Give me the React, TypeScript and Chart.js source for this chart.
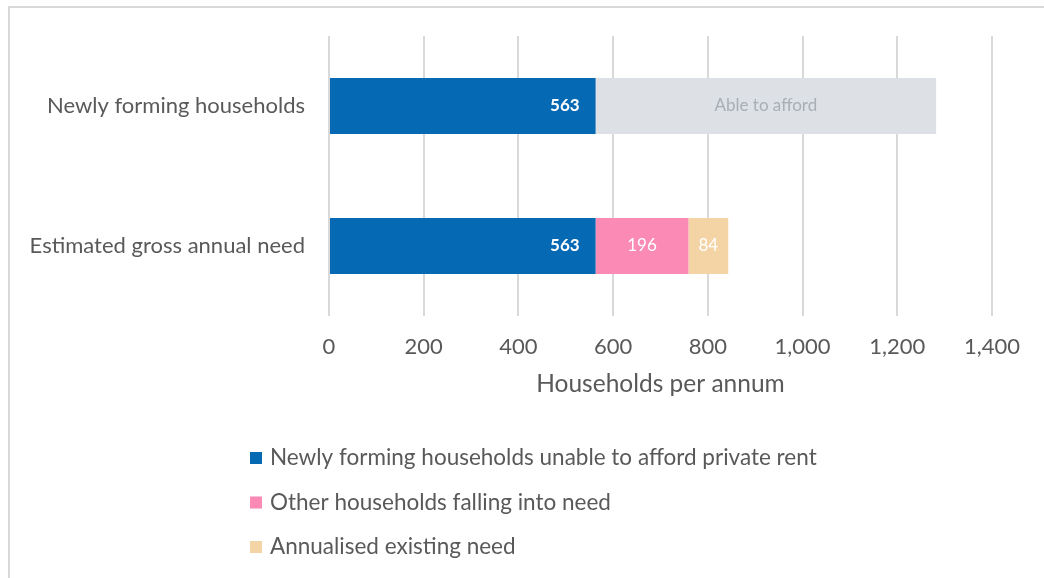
import React, { useEffect, useRef } from "react";
import { Chart, registerables } from "chart.js";

Chart.register(...registerables);

// ---- data ----
const categories = ["Newly forming households", "Estimated gross annual need"];
const unableToAfford = [563, 563];
const ableToAfford = [719, 0];
const otherFallingIntoNeed = [0, 196];
const annualisedExistingNeed = [0, 84];
const seriesNames = [
  "Newly forming households unable to afford private rent",
  "Able to afford",
  "Other households falling into need",
  "Annualised existing need",
];
const xMin = 0;
const xMax = 1400;
const xStep = 200;
const axisTitle = "Households per annum";

const FONT = "Lato, 'Open Sans', sans-serif";
const TEXT = "#595959";

const framePlugin = {
  id: "frame",
  beforeDraw(chart: any) {
    const ctx = chart.ctx;
    ctx.save();
    ctx.strokeStyle = "#d9d9d9";
    ctx.lineWidth = 2;
    ctx.strokeRect(9, 7, chart.width + 40, chart.height + 40);
    ctx.restore();
  },
};

const labelPlugin = {
  id: "barLabels",
  afterDatasetsDraw(chart: any) {
    const ctx = chart.ctx;
    chart.data.datasets.forEach((ds: any, i: number) => {
      const meta = chart.getDatasetMeta(i);
      meta.data.forEach((bar: any, j: number) => {
        const v = ds.data[j];
        if (!v) return;
        const { x, y, base } = bar.getProps(["x", "y", "base"], true);
        ctx.save();
        ctx.textBaseline = "middle";
        if (ds.labelMode === "end") {
          ctx.font = `bold 17px ${FONT}`;
          ctx.fillStyle = "#ffffff";
          ctx.textAlign = "right";
          ctx.fillText(String(v), x - 16, y);
        } else if (ds.labelMode === "name") {
          ctx.font = `17px ${FONT}`;
          ctx.fillStyle = "#a7aeb6";
          ctx.textAlign = "center";
          ctx.fillText(ds.label, (x + base) / 2, y);
        } else {
          ctx.font = `17px ${FONT}`;
          ctx.fillStyle = "#ffffff";
          ctx.textAlign = "center";
          ctx.fillText(String(v), (x + base) / 2, y);
        }
        ctx.restore();
      });
    });
  },
};

const legendPlugin = {
  id: "customLegend",
  afterDraw(chart: any) {
    const ctx = chart.ctx;
    const items = chart.data.datasets.filter((d: any) => d.inLegend);
    ctx.save();
    ctx.font = `22.5px ${FONT}`;
    ctx.textBaseline = "middle";
    ctx.textAlign = "left";
    items.forEach((d: any, k: number) => {
      const cy = 458 + k * 44.5;
      ctx.fillStyle = d.backgroundColor;
      ctx.fillRect(250, cy - 6, 12, 12);
      ctx.fillStyle = TEXT;
      ctx.fillText(d.label, 270, cy);
    });
    ctx.restore();
  },
};

export default function App() {
  const ref = useRef<HTMLCanvasElement>(null);
  useEffect(() => {
    document.body.style.margin = "0";
    const chart = new Chart(ref.current!, {
      type: "bar",
      data: {
        labels: categories,
        datasets: [
          { label: seriesNames[0], data: unableToAfford, backgroundColor: "#0669b4", labelMode: "end", inLegend: true },
          { label: seriesNames[1], data: ableToAfford, backgroundColor: "#dde1e5", labelMode: "name", inLegend: false },
          { label: seriesNames[2], data: otherFallingIntoNeed, backgroundColor: "#fb8ab4", labelMode: "center", inLegend: true },
          { label: seriesNames[3], data: annualisedExistingNeed, backgroundColor: "#f4d3a5", labelMode: "center", inLegend: true },
        ] as any,
      },
      options: {
        indexAxis: "y",
        animation: false,
        responsive: true,
        maintainAspectRatio: false,
        datasets: { bar: { barPercentage: 0.8, categoryPercentage: 0.5, borderWidth: 0 } },
        layout: { padding: { top: 36, right: 52, bottom: 178, left: 0 } },
        plugins: { legend: { display: false }, tooltip: { enabled: false } },
        scales: {
          x: {
            stacked: true,
            min: xMin,
            max: xMax,
            ticks: { stepSize: xStep, color: TEXT, font: { size: 22, family: FONT }, padding: 18 },
            grid: { color: "#d9d9d9", lineWidth: 2, drawTicks: false },
            border: { display: false },
            title: { display: true, text: axisTitle, color: TEXT, font: { size: 24.5, family: FONT }, padding: { top: 0, bottom: 1 } },
            afterFit: (s: any) => { s.height = 84; },
          },
          y: {
            stacked: true,
            grid: { display: false },
            border: { display: false },
            ticks: { color: TEXT, font: { size: 22, family: FONT }, padding: 16 },
            afterFit: (s: any) => { s.width = 329; },
          },
        },
      } as any,
      plugins: [framePlugin, labelPlugin, legendPlugin],
    });
    return () => chart.destroy();
  }, []);
  return (
    <div style={{ position: "relative", width: 1044, height: 578 }}>
      <canvas ref={ref} />
    </div>
  );
}
